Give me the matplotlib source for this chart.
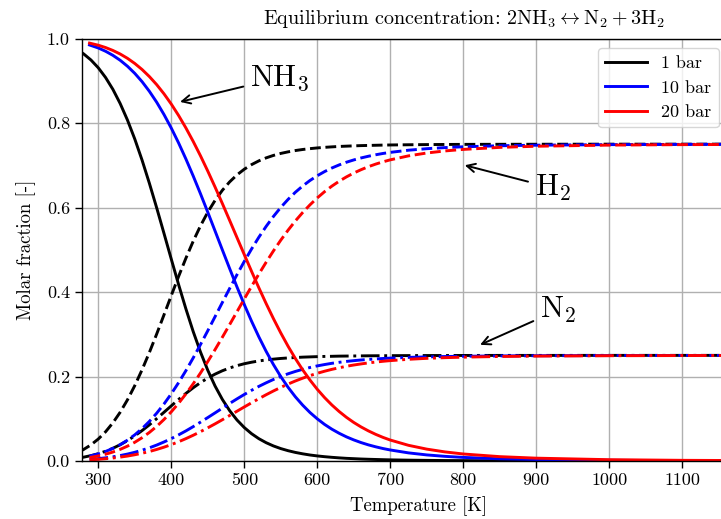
import matplotlib
matplotlib.use("Agg")
import matplotlib.pyplot as plt

plt.rcParams['font.family'] = 'serif'
plt.rcParams['font.serif'] = ['cmr10']
plt.rcParams['mathtext.fontset'] = 'cm'
plt.rcParams['axes.unicode_minus'] = False
plt.rcParams['axes.formatter.use_mathtext'] = True

# ---------------- data ----------------
temps_1bar = [275, 280, 290, 300, 310, 320, 330, 340, 350, 360, 370, 380, 390, 400,
              410, 420, 430, 440, 450, 460, 470, 480, 490, 500, 510, 520, 530, 540,
              550, 560, 570, 580, 590, 600, 610, 620, 630, 640, 650, 660, 670, 680,
              690, 700, 725, 750, 775, 800, 850, 900, 1000, 1100, 1200]
nh3_1bar = [0.9694, 0.9635, 0.9491, 0.9307, 0.9077, 0.8797, 0.8461, 0.8069, 0.7621,
            0.7121, 0.6574, 0.5993, 0.5389, 0.4779, 0.4178, 0.3603, 0.3066, 0.2580,
            0.2148, 0.1774, 0.1457, 0.1191, 0.0971, 0.0792, 0.0646, 0.0528, 0.0433,
            0.0356, 0.0294, 0.0244, 0.0203, 0.0170, 0.0142, 0.0120, 0.0102, 0.0087,
            0.0074, 0.0063, 0.0055, 0.0047, 0.0041, 0.0036, 0.0031, 0.0027, 0.0020,
            0.0015, 0.0011, 0.0009, 0.0005, 0.0003, 0.0002, 0.0001, 0.0001]
h2_1bar = [0.0230, 0.0274, 0.0382, 0.0520, 0.0692, 0.0903, 0.1154, 0.1448, 0.1784,
           0.2160, 0.2569, 0.3005, 0.3458, 0.3916, 0.4367, 0.4798, 0.5200, 0.5565,
           0.5889, 0.6169, 0.6408, 0.6607, 0.6772, 0.6906, 0.7015, 0.7104, 0.7175,
           0.7233, 0.7280, 0.7317, 0.7348, 0.7373, 0.7393, 0.7410, 0.7424, 0.7435,
           0.7445, 0.7452, 0.7459, 0.7465, 0.7469, 0.7473, 0.7477, 0.7480, 0.7485,
           0.7489, 0.7492, 0.7494, 0.7496, 0.7497, 0.7499, 0.7499, 0.7500]
n2_1bar = [0.0077, 0.0091, 0.0127, 0.0173, 0.0231, 0.0301, 0.0385, 0.0483, 0.0595,
           0.0720, 0.0856, 0.1002, 0.1153, 0.1305, 0.1456, 0.1599, 0.1733, 0.1855,
           0.1963, 0.2056, 0.2136, 0.2202, 0.2257, 0.2302, 0.2338, 0.2368, 0.2392,
           0.2411, 0.2427, 0.2439, 0.2449, 0.2458, 0.2464, 0.2470, 0.2475, 0.2478,
           0.2482, 0.2484, 0.2486, 0.2488, 0.2490, 0.2491, 0.2492, 0.2493, 0.2495,
           0.2496, 0.2497, 0.2498, 0.2499, 0.2499, 0.2500, 0.2500, 0.2500]

temps_hp = [288, 300, 310, 320, 330, 340, 350, 360, 370, 380, 390, 400, 410, 420,
            430, 440, 450, 460, 470, 480, 490, 500, 510, 520, 530, 540, 550, 560,
            570, 580, 590, 600, 610, 620, 630, 640, 650, 660, 670, 680, 690, 700,
            725, 750, 775, 800, 850, 900, 1000, 1100, 1200]
nh3_10bar = [0.9847, 0.9776, 0.9698, 0.9602, 0.9485, 0.9343, 0.9175, 0.8978, 0.8750,
             0.8492, 0.8201, 0.7880, 0.7529, 0.7150, 0.6748, 0.6326, 0.5889, 0.5444,
             0.4996, 0.4553, 0.4120, 0.3703, 0.3308, 0.2937, 0.2594, 0.2281, 0.1998,
             0.1744, 0.1519, 0.1322, 0.1148, 0.0998, 0.0866, 0.0753, 0.0656, 0.0571,
             0.0499, 0.0436, 0.0382, 0.0336, 0.0295, 0.0261, 0.0192, 0.0144, 0.0110,
             0.0085, 0.0052, 0.0034, 0.0016, 0.0008, 0.0005]
h2_10bar = [0.0115, 0.0168, 0.0226, 0.0298, 0.0386, 0.0493, 0.0619, 0.0767, 0.0937,
            0.1131, 0.1349, 0.1590, 0.1854, 0.2137, 0.2439, 0.2756, 0.3083, 0.3417,
            0.3753, 0.4085, 0.4410, 0.4723, 0.5019, 0.5297, 0.5554, 0.5789, 0.6002,
            0.6192, 0.6361, 0.6509, 0.6639, 0.6752, 0.6850, 0.6935, 0.7008, 0.7072,
            0.7126, 0.7173, 0.7213, 0.7248, 0.7279, 0.7305, 0.7356, 0.7392, 0.7418,
            0.7437, 0.7461, 0.7475, 0.7488, 0.7494, 0.7497]
n2_10bar = [0.0038, 0.0056, 0.0075, 0.0099, 0.0129, 0.0164, 0.0206, 0.0256, 0.0312,
            0.0377, 0.0450, 0.0530, 0.0618, 0.0712, 0.0813, 0.0919, 0.1028, 0.1139,
            0.1251, 0.1362, 0.1470, 0.1574, 0.1673, 0.1766, 0.1851, 0.1930, 0.2001,
            0.2064, 0.2120, 0.2170, 0.2213, 0.2251, 0.2283, 0.2312, 0.2336, 0.2357,
            0.2375, 0.2391, 0.2404, 0.2416, 0.2426, 0.2435, 0.2452, 0.2464, 0.2473,
            0.2479, 0.2487, 0.2492, 0.2496, 0.2498, 0.2499]
nh3_20bar = [0.9891, 0.9841, 0.9786, 0.9717, 0.9633, 0.9531, 0.9409, 0.9266, 0.9099,
             0.8908, 0.8691, 0.8448, 0.8179, 0.7884, 0.7565, 0.7224, 0.6862, 0.6484,
             0.6093, 0.5693, 0.5289, 0.4886, 0.4488, 0.4099, 0.3725, 0.3368, 0.3031,
             0.2716, 0.2425, 0.2158, 0.1916, 0.1697, 0.1501, 0.1326, 0.1171, 0.1033,
             0.0912, 0.0806, 0.0713, 0.0631, 0.0559, 0.0496, 0.0371, 0.0281, 0.0215,
             0.0166, 0.0103, 0.0067, 0.0031, 0.0016, 0.0009]
h2_20bar = [0.0082, 0.0119, 0.0161, 0.0212, 0.0275, 0.0352, 0.0443, 0.0551, 0.0676,
            0.0819, 0.0982, 0.1164, 0.1366, 0.1587, 0.1826, 0.2082, 0.2354, 0.2637,
            0.2930, 0.3230, 0.3533, 0.3836, 0.4134, 0.4425, 0.4706, 0.4974, 0.5227,
            0.5463, 0.5682, 0.5881, 0.6063, 0.6227, 0.6375, 0.6506, 0.6622, 0.6725,
            0.6816, 0.6895, 0.6966, 0.7027, 0.7081, 0.7128, 0.7222, 0.7290, 0.7339,
            0.7375, 0.7423, 0.7450, 0.7477, 0.7488, 0.7493]
n2_20bar = [0.0027, 0.0040, 0.0054, 0.0071, 0.0092, 0.0117, 0.0148, 0.0184, 0.0225,
            0.0273, 0.0327, 0.0388, 0.0455, 0.0529, 0.0609, 0.0694, 0.0785, 0.0879,
            0.0977, 0.1077, 0.1178, 0.1279, 0.1378, 0.1475, 0.1569, 0.1658, 0.1742,
            0.1821, 0.1894, 0.1960, 0.2021, 0.2076, 0.2125, 0.2169, 0.2207, 0.2242,
            0.2272, 0.2298, 0.2322, 0.2342, 0.2360, 0.2376, 0.2407, 0.2430, 0.2446,
            0.2458, 0.2474, 0.2483, 0.2492, 0.2496, 0.2498]

pressures = ['1 bar', '10 bar', '20 bar']
colors = ['black', 'blue', 'red']
x_ticks = [300, 400, 500, 600, 700, 800, 900, 1000, 1100]
y_ticks = [0.0, 0.2, 0.4, 0.6, 0.8, 1.0]

# ---------------- figure ----------------
W, H = 721, 519
fig = plt.figure(figsize=(W / 100, H / 100), dpi=100)
ax_left, ax_bottom, ax_top = 81.7, 461.0, 38.5
x_min, x_max = 277.3, 1200.0
ax_w_px = (x_max - x_min) * 0.73
ax = fig.add_axes([ax_left / W, (H - ax_bottom) / H, ax_w_px / W, (ax_bottom - ax_top) / H])

series = [
    (temps_1bar, nh3_1bar, h2_1bar, n2_1bar),
    (temps_hp, nh3_10bar, h2_10bar, n2_10bar),
    (temps_hp, nh3_20bar, h2_20bar, n2_20bar),
]
lw = 2.1
for (t, nh3, h2, n2), c, lab in zip(series, colors, pressures):
    ax.plot(t, nh3, '-', color=c, lw=lw, label=lab, solid_joinstyle='round')
    ax.plot(t, h2, '--', color=c, lw=lw)
    ax.plot(t, n2, '-.', color=c, lw=lw)

ax.set_xlim(x_min, x_max)
ax.set_ylim(0.0, 1.0)
ax.set_xticks(x_ticks)
ax.set_yticks(y_ticks)
ax.set_xticklabels([str(v) for v in x_ticks])
ax.set_yticklabels([f"{v:.1f}" for v in y_ticks])
ax.tick_params(labelsize=13, length=5, width=1)
ax.grid(True, color='#b0b0b0', lw=1.0)
ax.set_axisbelow(True)
for s in ax.spines.values():
    s.set_linewidth(1.0)

ax.set_xlabel('Temperature [K]', fontsize=13.5, labelpad=6)
ax.set_ylabel('Molar fraction [-]', fontsize=13.5, labelpad=8)

fig.text(464 / W, 1 - 19 / H,
         r'Equilibrium concentration: $2\mathrm{NH}_3 \leftrightarrow \mathrm{N}_2 + 3\mathrm{H}_2$',
         ha='center', va='center', fontsize=14.5)

arrow = dict(arrowstyle='->', color='black', lw=1.4, shrinkA=3, shrinkB=0,
             mutation_scale=15)
ax.annotate(r'$\mathrm{NH}_3$', xy=(412, 0.85), xytext=(508, 0.907),
            ha='left', va='center', fontsize=22, arrowprops=arrow)
ax.annotate(r'$\mathrm{H}_2$', xy=(802, 0.70), xytext=(898, 0.646),
            ha='left', va='center', fontsize=22, arrowprops=arrow)
ax.annotate(r'$\mathrm{N}_2$', xy=(823, 0.275), xytext=(905, 0.357),
            ha='left', va='center', fontsize=22, arrowprops=arrow)

leg = ax.legend(loc='upper left', bbox_to_anchor=(598 / W, 1 - 48 / H),
                bbox_transform=fig.transFigure, fontsize=13, handlelength=2.3,
                framealpha=0.8, borderaxespad=0)

fig.savefig('out.png', dpi=100)
